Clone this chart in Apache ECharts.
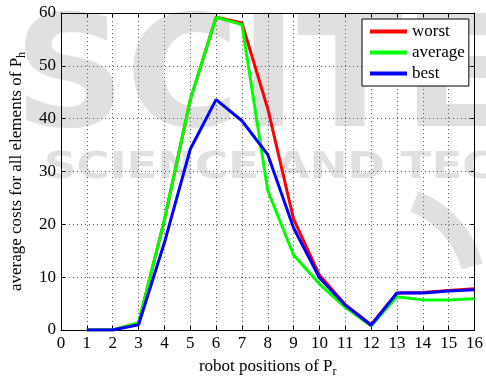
<!DOCTYPE html>
<html>
<head>
<meta charset="utf-8">
<script src="https://cdn.jsdelivr.net/npm/echarts@6/dist/echarts.min.js"></script>
<style>
html,body{margin:0;padding:0;background:#fff;}
#chart{width:486px;height:383px;}
</style>
</head>
<body>
<div id="chart"></div>
<script>
var positions = [1,2,3,4,5,6,7,8,9,10,11,12,13,14,15,16];
var worst   = [0,0,1.2,20.8,43.5,59.2,58.1,41.9,21.0,10.4,4.8,1.0,7.0,7.1,7.5,7.8];
var average = [0,0,1.4,20.8,43.5,59.2,57.8,26.4,14.2,8.7,4.3,0.8,6.3,5.7,5.7,5.9];
var best    = [0,0,1.0,16.5,34.2,43.6,39.6,33.2,19.3,9.9,4.7,0.9,7.0,7.0,7.4,7.6];
var seriesNames = ['worst','average','best'];
var seriesColors = ['#ff0000','#00ff00','#0000ff'];

function pairs(arr){ return positions.map(function(x,i){ return [x, arr[i]]; }); }

var FONT = 'Liberation Serif';
var WM = '#e0e0e0';
var chart = echarts.init(document.getElementById('chart'), null, {renderer:'canvas'});
var gridLine = {show:true, lineStyle:{color:'#555', type:[1,3], width:1}};
var option = {
  animation:false,
  backgroundColor:'#fff',
  textStyle:{fontFamily:FONT},
  graphic:[
    {type:'text', x:14, y:8, z:-10, silent:true,
     style:{text:'SCITE', font:'bold 155px "DejaVu Sans"', fill:WM, textVerticalAlign:'top'}},
    {type:'text', x:44, y:150, z:-10, silent:true, scaleX:1.22,
     style:{text:'SCIENCE AND TECHNOLOGY', font:'bold 37px "DejaVu Sans"', fill:WM, textVerticalAlign:'top'}},
    {type:'arc', z:-10, silent:true,
     shape:{cx:380, cy:290, r:95, startAngle:-1.2, endAngle:-0.25},
     style:{stroke:WM, lineWidth:22, fill:null}}
  ],
  grid:{left:60, right:9, top:13, bottom:48, containLabel:false},
  legend:{
    orient:'vertical', left:362, top:19,
    data:seriesNames.map(function(n){ return {name:n, icon:'rect'}; }),
    itemWidth:37, itemHeight:4, itemGap:4,
    padding:[4,4,4,8],
    backgroundColor:'#fff', borderColor:'#000', borderWidth:1, borderRadius:0,
    textStyle:{fontFamily:FONT, fontSize:17, color:'#000'}
  },
  xAxis:[{
    type:'value', min:0, max:16, interval:1,
    name:'robot positions of P{sub|r}', nameLocation:'middle', nameGap:25,
    nameTextStyle:{fontFamily:FONT, fontSize:17, color:'#000',
      rich:{sub:{fontFamily:FONT, fontSize:12, color:'#000', padding:[11,0,0,0]}}},
    axisLine:{show:true, onZero:false, lineStyle:{color:'#000', width:1}},
    axisTick:{show:true, inside:true, length:4, lineStyle:{color:'#000'}},
    axisLabel:{fontFamily:FONT, fontSize:17, color:'#000', margin:5},
    splitLine:gridLine
  },{
    type:'value', position:'top', min:0, max:16, interval:1,
    axisLine:{show:true, onZero:false, lineStyle:{color:'#000', width:1}},
    axisTick:{show:true, inside:true, length:4, lineStyle:{color:'#000'}},
    axisLabel:{show:false}, splitLine:{show:false}
  }],
  yAxis:[{
    type:'value', min:0, max:60, interval:10,
    name:'average costs for all elements of P{sub|h}', nameLocation:'middle', nameGap:33, nameRotate:90,
    nameTextStyle:{fontFamily:FONT, fontSize:17, color:'#000',
      rich:{sub:{fontFamily:FONT, fontSize:12, color:'#000', padding:[11,0,0,0]}}},
    axisLine:{show:true, onZero:false, lineStyle:{color:'#000', width:1}},
    axisTick:{show:true, inside:true, length:4, lineStyle:{color:'#000'}},
    axisLabel:{fontFamily:FONT, fontSize:17, color:'#000', margin:5},
    splitLine:gridLine
  },{
    type:'value', position:'right', min:0, max:60, interval:10,
    axisLine:{show:true, onZero:false, lineStyle:{color:'#000', width:1}},
    axisTick:{show:true, inside:true, length:4, lineStyle:{color:'#000'}},
    axisLabel:{show:false}, splitLine:{show:false}
  }],
  series:[worst, average, best].map(function(arr, i){
    return {
      name:seriesNames[i], type:'line', data:pairs(arr),
      symbol:'none', showSymbol:false,
      lineStyle:{color:seriesColors[i], width:3},
      itemStyle:{color:seriesColors[i]},
      z:3+i
    };
  })
};
chart.setOption(option);
</script>
</body>
</html>
